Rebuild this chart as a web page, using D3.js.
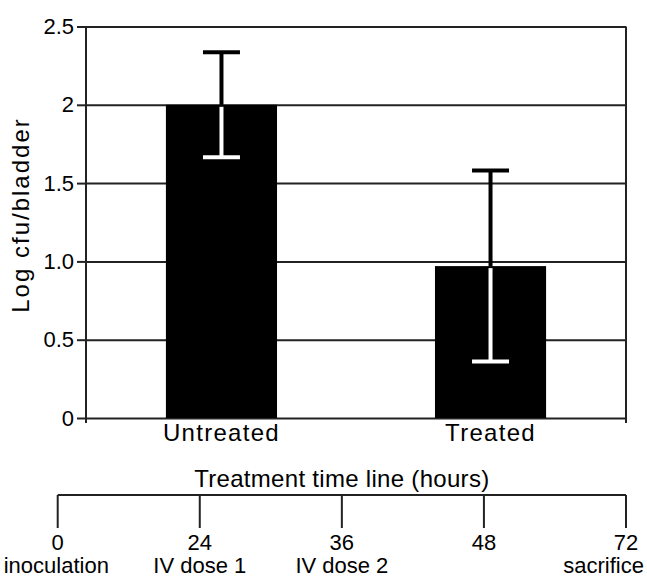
<!DOCTYPE html>
<html>
<head>
<meta charset="utf-8">
<script src="https://cdn.jsdelivr.net/npm/d3@7"></script>
<style>
    body { margin: 0; background: #fff; }
    svg { display: block; font-family: "Liberation Sans", Arial, sans-serif; }
</style>
</head>
<body>
<svg id="chart" width="647" height="578"></svg>
<script>
// Chart data
const groups = ["Untreated", "Treated"];
const means = [2.0, 0.97];
const errors = [0.335, 0.61];
const yTicks = [0, 0.5, 1.0, 1.5, 2, 2.5];
const yTickLabels = ["0", "0.5", "1.0", "1.5", "2", "2.5"];

// Timeline data
const hours = ["0", "24", "36", "48", "72"];
const events = ["inoculation", "IV dose 1", "IV dose 2", "", "sacrifice"];

const width = 647;
const height = 578;
const margin = {top: 26.5, right: 21, bottom: 160, left: 86};
const plotW = width - margin.left - margin.right;
const plotH = height - margin.top - margin.bottom;
const lineColor = "#222";
const textColor = "#000";

const svg = d3.select("#chart");

const x = d3.scaleBand()
    .domain(groups)
    .range([0, plotW])
    .paddingInner(0.587)
    .paddingOuter(0.297);

const y = d3.scaleLinear()
    .domain([0, 2.5])
    .range([plotH, 0]);

const g = svg.append("g")
    .attr("transform", `translate(${margin.left},${margin.top})`);

// Gridlines
const grid = g.append("g")
    .call(d3.axisRight(y).tickValues(yTicks).tickSize(plotW).tickFormat(""));
grid.select(".domain").remove();
grid.selectAll("line").attr("stroke", lineColor).attr("stroke-width", 2);

// Left axis with labels
const yAxis = g.append("g")
    .call(d3.axisLeft(y)
        .tickValues(yTicks)
        .tickSize(9)
        .tickPadding(3)
        .tickFormat((d, i) => yTickLabels[i]));
yAxis.select(".domain").remove();
yAxis.selectAll("line").attr("stroke", lineColor).attr("stroke-width", 2);
yAxis.selectAll("text")
    .attr("fill", textColor)
    .style("font-size", "22px");

// Frame verticals
g.append("line")
    .attr("x1", 0).attr("x2", 0)
    .attr("y1", y(2.5)).attr("y2", y(0) + 5)
    .attr("stroke", lineColor).attr("stroke-width", 2);
g.append("line")
    .attr("x1", plotW).attr("x2", plotW)
    .attr("y1", y(2.5)).attr("y2", y(0) + 5)
    .attr("stroke", lineColor).attr("stroke-width", 2);

// Bars
g.append("g")
    .selectAll("rect")
    .data(groups)
    .join("rect")
    .attr("x", d => x(d))
    .attr("y", (d, i) => y(means[i]))
    .attr("width", x.bandwidth())
    .attr("height", (d, i) => y(0) - y(means[i]))
    .attr("fill", "#000");

// Error bars: black above the bar top, white inside the bar
const capW = 37;
const eb = g.append("g")
    .selectAll("g")
    .data(groups)
    .join("g")
    .attr("transform", d => `translate(${x(d) + x.bandwidth() / 2},0)`);

eb.append("line")
    .attr("y1", (d, i) => y(means[i]))
    .attr("y2", (d, i) => y(means[i] + errors[i]))
    .attr("stroke", "#000").attr("stroke-width", 4);
eb.append("line")
    .attr("x1", -capW / 2).attr("x2", capW / 2)
    .attr("y1", (d, i) => y(means[i] + errors[i]))
    .attr("y2", (d, i) => y(means[i] + errors[i]))
    .attr("stroke", "#000").attr("stroke-width", 4);
eb.append("line")
    .attr("y1", (d, i) => y(means[i]) + 2)
    .attr("y2", (d, i) => y(means[i] - errors[i]))
    .attr("stroke", "#fff").attr("stroke-width", 4);
eb.append("line")
    .attr("x1", -capW / 2).attr("x2", capW / 2)
    .attr("y1", (d, i) => y(means[i] - errors[i]))
    .attr("y2", (d, i) => y(means[i] - errors[i]))
    .attr("stroke", "#fff").attr("stroke-width", 4);

// Category labels
const xAxis = g.append("g")
    .attr("transform", `translate(0,${plotH})`)
    .call(d3.axisBottom(x).tickSize(0).tickPadding(6));
xAxis.select(".domain").remove();
xAxis.selectAll("text")
    .attr("fill", textColor)
    .style("font-size", "24px")
    .style("letter-spacing", "1.3px");

// Y axis title
svg.append("text")
    .attr("transform", `translate(29,215) rotate(-90)`)
    .attr("text-anchor", "middle")
    .attr("fill", textColor)
    .style("font-size", "24px")
    .style("letter-spacing", "2px")
    .text("Log cfu/bladder");

// Treatment time line
const tl = d3.scalePoint()
    .domain(hours)
    .range([57.7, 626]);
const lineY = 495;

const tg = svg.append("g");
tg.append("text")
    .attr("x", tl("36"))
    .attr("y", lineY - 8)
    .attr("text-anchor", "middle")
    .attr("fill", textColor)
    .style("font-size", "24px")
    .style("letter-spacing", "0.3px")
    .text("Treatment time line (hours)");

tg.append("line")
    .attr("x1", tl(hours[0])).attr("x2", tl(hours[hours.length - 1]))
    .attr("y1", lineY).attr("y2", lineY)
    .attr("stroke", lineColor).attr("stroke-width", 2);

const tick = tg.selectAll(".tl-tick")
    .data(hours)
    .join("g")
    .attr("class", "tl-tick")
    .attr("transform", d => `translate(${tl(d)},${lineY})`);

tick.append("line")
    .attr("y1", 0).attr("y2", 33)
    .attr("stroke", lineColor).attr("stroke-width", 2);

tick.append("text")
    .attr("y", 55)
    .attr("text-anchor", "middle")
    .attr("fill", textColor)
    .style("font-size", "22px")
    .text(d => d);

// first label starts at the left edge, last one ends at the right edge
const last = hours.length - 1;
tick.append("text")
    .attr("y", 78)
    .attr("x", (d, i) => i === 0 ? -54 : i === last ? 18 : 0)
    .attr("text-anchor", (d, i) => i === 0 ? "start" : i === last ? "end" : "middle")
    .attr("fill", textColor)
    .style("font-size", "22px")
    .text((d, i) => events[i]);
</script>
</body>
</html>
